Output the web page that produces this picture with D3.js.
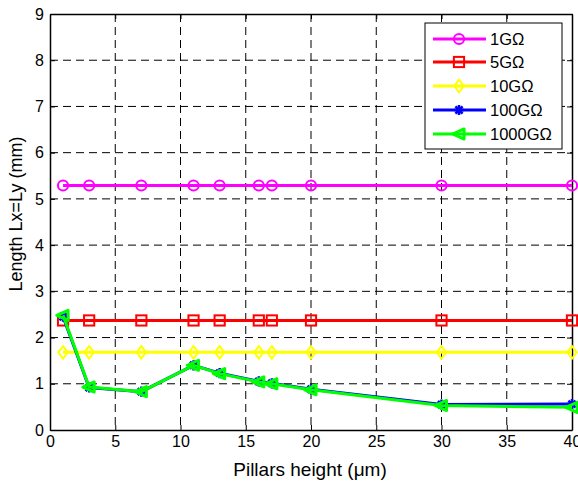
<!DOCTYPE html>
<html>
<head>
<meta charset="utf-8">
<script src="https://cdn.jsdelivr.net/npm/d3@7"></script>
<style>
  body { margin: 0; background: #fff; }
  text { font-family: "Liberation Sans", Arial, sans-serif; }
</style>
</head>
<body>
<div id="chart"></div>
<script>
// pillar heights (µm)
const heights = [1, 3, 7, 11, 13, 16, 17, 20, 30, 40];

const len1G = [5.29, 5.29, 5.29, 5.29, 5.29, 5.29, 5.29, 5.29, 5.29, 5.29];
const len5G = [2.37, 2.37, 2.37, 2.37, 2.37, 2.37, 2.37, 2.37, 2.37, 2.37];
const len10G = [1.68, 1.68, 1.68, 1.68, 1.68, 1.68, 1.68, 1.68, 1.68, 1.68];
const len100G = [2.45, 0.92, 0.83, 1.4, 1.23, 1.05, 1.01, 0.88, 0.55, 0.56];
const len1000G = [2.48, 0.93, 0.83, 1.4, 1.22, 1.04, 1.0, 0.87, 0.53, 0.49];

const seriesNames = ["1GΩ", "5GΩ", "10GΩ", "100GΩ", "1000GΩ"];
const seriesColors = ["#ff00ff", "#ff0000", "#ffff00", "#0000ff", "#00ff00"];
const seriesMarkers = ["circle", "square", "diamond", "star", "triangle"];
const seriesValues = [len1G, len5G, len10G, len100G, len1000G];

const xTicks = [0, 5, 10, 15, 20, 25, 30, 35, 40];
const yTicks = [0, 1, 2, 3, 4, 5, 6, 7, 8, 9];

const W = 578, H = 481;
const margin = { top: 14, right: 6, bottom: 51, left: 50 };
const width = W - margin.left - margin.right;
const height = H - margin.top - margin.bottom;

const svg = d3.select("#chart").append("svg")
  .attr("width", W)
  .attr("height", H);

const g = svg.append("g")
  .attr("transform", `translate(${margin.left},${margin.top})`);

const x = d3.scaleLinear().domain([0, 40]).range([0, width]);
const y = d3.scaleLinear().domain([0, 9]).range([height, 0]);

// grid
g.append("g").selectAll("line")
  .data(xTicks.slice(1, -1))
  .join("line")
  .attr("x1", d => x(d)).attr("x2", d => x(d))
  .attr("y1", 0).attr("y2", height)
  .attr("stroke", "#000").attr("stroke-width", 1)
  .attr("stroke-dasharray", "8,5");

g.append("g").selectAll("line")
  .data(yTicks.slice(1, -1))
  .join("line")
  .attr("x1", 0).attr("x2", width)
  .attr("y1", d => y(d)).attr("y2", d => y(d))
  .attr("stroke", "#000").attr("stroke-width", 1)
  .attr("stroke-dasharray", "8,5");

// axes (ticks inside)
const xAxis = d3.axisBottom(x).tickValues(xTicks).tickSizeInner(-5).tickSizeOuter(0).tickPadding(6);
const yAxis = d3.axisLeft(y).tickValues(yTicks).tickSizeInner(-5).tickSizeOuter(0).tickPadding(6);

const gx = g.append("g").attr("transform", `translate(0,${height})`).call(xAxis);
const gy = g.append("g").call(yAxis);
g.append("g").call(d3.axisTop(x).tickValues(xTicks).tickSizeInner(-5).tickSizeOuter(0).tickFormat(""));
g.append("g").attr("transform", `translate(${width},0)`)
  .call(d3.axisRight(y).tickValues(yTicks).tickSizeInner(-5).tickSizeOuter(0).tickFormat(""));

svg.selectAll(".domain").attr("stroke", "#000").attr("stroke-width", 1.5);
svg.selectAll(".tick line").attr("stroke", "#000");
[gx, gy].forEach(a => a.selectAll("text")
  .style("font-size", "16px").attr("fill", "#000")
  .style("font-family", "'Liberation Sans', Arial, sans-serif"));

// marker shapes
function drawMarker(sel, type, color, size) {
  if (type === "circle") {
    sel.append("circle").attr("r", size * 0.85)
      .attr("fill", "none").attr("stroke", color).attr("stroke-width", 2);
  } else if (type === "square") {
    sel.append("rect").attr("x", -size * 0.85).attr("y", -size * 0.85)
      .attr("width", size * 1.7).attr("height", size * 1.7)
      .attr("fill", "none").attr("stroke", color).attr("stroke-width", 2);
  } else if (type === "diamond") {
    const s = size * 1.05;
    sel.append("path").attr("d", `M0,${-s}L${s * 0.75},0L0,${s}L${-s * 0.75},0Z`)
      .attr("fill", "none").attr("stroke", color).attr("stroke-width", 2);
  } else if (type === "star") {
    const s = size * 0.85;
    sel.append("path")
      .attr("d", `M${-s},0L${s},0M0,${-s}L0,${s}M${-s * 0.7},${-s * 0.7}L${s * 0.7},${s * 0.7}M${-s * 0.7},${s * 0.7}L${s * 0.7},${-s * 0.7}`)
      .attr("stroke", color).attr("stroke-width", 2.5);
  } else if (type === "triangle") {
    const s = size * 1.05;
    sel.append("path").attr("d", `M${-s},0L${s * 0.8},${-s * 0.8}L${s * 0.8},${s * 0.8}Z`)
      .attr("fill", "none").attr("stroke", color).attr("stroke-width", 3)
      .attr("stroke-linejoin", "round");
  }
}

const line = d3.line().x((d, i) => x(heights[i])).y(d => y(d));

seriesValues.forEach((vals, k) => {
  const col = seriesColors[k];
  g.append("path").datum(vals)
    .attr("d", line)
    .attr("fill", "none")
    .attr("stroke", col)
    .attr("stroke-width", 3);
  g.append("g").selectAll("g")
    .data(vals)
    .join("g")
    .attr("transform", (d, i) => `translate(${x(heights[i])},${y(d)})`)
    .each(function () { drawMarker(d3.select(this), seriesMarkers[k], col, 6); });
});

// legend
const legend = svg.append("g").attr("transform", "translate(425,23)");
legend.append("rect")
  .attr("width", 137).attr("height", 126)
  .attr("fill", "#fff").attr("stroke", "#000").attr("stroke-width", 1);

const legendY = [16, 39, 63, 87, 111];
seriesNames.forEach((name, k) => {
  const row = legend.append("g").attr("transform", `translate(0,${legendY[k]})`);
  row.append("line").attr("x1", 8).attr("x2", 61).attr("y1", 0).attr("y2", 0)
    .attr("stroke", seriesColors[k]).attr("stroke-width", 3);
  const m = row.append("g").attr("transform", "translate(34,0)");
  drawMarker(m, seriesMarkers[k], seriesColors[k], 6);
  row.append("text").attr("x", 65).attr("y", 6)
    .style("font-size", "16.5px").attr("fill", "#000")
    .text(name);
});

// axis titles
svg.append("text")
  .attr("x", 310).attr("y", 476)
  .attr("text-anchor", "middle")
  .style("font-size", "19px")
  .text("Pillars height (μm)");

svg.append("text")
  .attr("transform", "translate(22,214) rotate(-90)")
  .attr("text-anchor", "middle")
  .style("font-size", "18px")
  .text("Length Lx=Ly (mm)");
</script>
</body>
</html>
